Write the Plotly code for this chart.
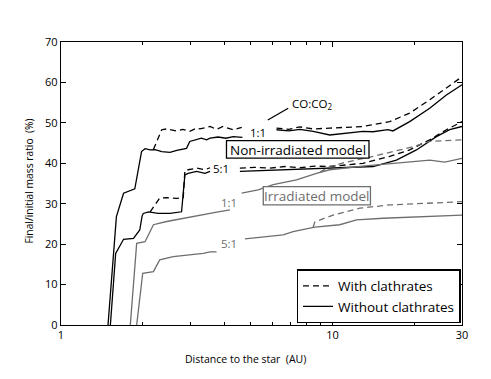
import math
import plotly.graph_objects as go

# ---------------- data (distance in AU, final/initial mass ratio in %) ----------------
ni11_solid_d = [1.49, 1.60, 1.70, 1.77, 1.87, 1.98, 2.04, 2.13, 2.22, 2.35, 2.52, 2.67, 2.90, 2.98, 3.16, 3.29,
                3.44, 3.54, 3.79, 4.05, 4.31, 4.66, None, 6.22, 6.90, 7.58, 8.49, 9.77, 10.9, 12.96, 14.1, 16.0,
                16.7, 19.25, 22.81, 26.28, 30]
ni11_solid_v = [0, 26.8, 32.6, 33.0, 33.7, 42.9, 43.6, 43.3, 43.4, 42.9, 42.7, 43.2, 43.7, 45.4, 45.8, 46.2,
                45.8, 46.2, 46.5, 46.2, 46.6, 46.4, None, 48.3, 48.0, 48.4, 47.9, 47.0, 47.3, 47.9, 47.8, 48.3,
                48.0, 50.3, 53.6, 56.9, 59.4]

ni11_dash_d = [2.19, 2.35, 2.45, 2.67, 2.81, 2.98, 3.16, 3.25, 3.54, 3.74, 3.95, 4.31, 4.63, None, 6.22, 6.90,
               7.58, 8.49, 9.77, 12.96, 16.25, 19.25, 22.81, 26.28, 30]
ni11_dash_v = [43.4, 48.3, 48.5, 48.0, 48.4, 47.9, 48.7, 48.5, 49.1, 48.4, 49.1, 48.3, 48.9, None, 48.7, 48.4,
               49.0, 48.5, 48.7, 49.1, 50.3, 52.4, 55.7, 58.6, 61.4]

ni51_solid_d = [1.52, 1.59, 1.70, 1.85, 1.95, 1.99, 2.01, 2.10, 2.28, 2.52, 2.78, 2.86, 2.94, 3.16, 3.39, 3.54,
                None, 4.56, 5.87, 7.58, 9.77, 14.11, 17.20, 20.38, 24.15, 27.02, 30]
ni51_solid_v = [0, 17.7, 21.2, 21.4, 23.5, 27.0, 27.6, 28.0, 27.6, 27.6, 28.0, 37.1, 37.5, 38.0, 37.5, 38.0,
                None, 38.0, 38.3, 38.5, 38.8, 39.2, 40.8, 43.3, 46.6, 48.3, 49.1]

ni51_dash_d = [2.13, 2.22, 2.31, 2.45, 2.67, 2.82, 2.86, 2.94, 3.16, 3.39, 3.54, None, 4.56, 5.17, 5.87, 6.67,
               7.58, 8.61, 9.77, 12.96, 16.25, 19.25, 22.81, 26.28, 30]
ni51_dash_v = [28.0, 29.7, 31.4, 31.5, 31.3, 31.5, 38.2, 38.4, 38.8, 38.4, 38.9, None, 38.8, 39.0, 38.8, 39.2,
               38.9, 39.3, 39.2, 40.0, 41.7, 43.3, 45.8, 48.3, 50.3]

irr11_solid_d = [1.80, 1.90, 2.04, 2.19, 2.45, 2.82, 3.25, 3.54, 3.79, 4.19, None, 4.63, 5.32, 6.05, 7.37, 8.73,
                 9.77, 12.96, 17.20, 22.81, 25.9, 30]
irr11_solid_v = [0, 20.2, 20.6, 24.8, 25.6, 26.4, 27.2, 27.8, 28.0, 28.5, None, 32.6, 33.4, 34.7, 35.9, 37.5,
                 38.4, 39.3, 40.0, 40.8, 40.3, 41.2]

irr11_dash_d = [9.0, 9.77, 11.26, 14.11, 19.80, 22.81, 30]
irr11_dash_v = [37.8, 39.2, 40.3, 41.7, 44.1, 45.4, 45.8]

irr51_solid_d = [1.90, 2.00, 2.19, 2.31, 2.59, 2.98, 3.34, 3.54, 3.74, None, 4.76, 5.72, 6.58, 7.16, 8.61, 10.64,
                 12.26, 15.36, 20.38, 30]
irr51_solid_v = [0, 12.8, 13.2, 16.1, 16.9, 17.3, 17.7, 18.1, 18.1, None, 21.3, 21.9, 22.3, 23.1, 24.2, 24.8,
                 26.0, 26.4, 26.8, 27.2]

irr51_dash_d = [8.49, 8.61, 10.05, 12.60, 16.25, 21.55, 30]
irr51_dash_v = [24.2, 25.5, 27.2, 28.9, 29.7, 30.1, 30.5]

x_tick_vals = [1, 10, 30]
x_tick_text = ["1", "10", "30"]
x_minor_vals = [2, 3, 4, 5, 6, 7, 8, 9, 20]
y_tick_vals = [0, 10, 20, 30, 40, 50, 60, 70]

# ---------------- styling ----------------
BLACK = "#000000"
GRAY = "#6e6e6e"
FONT = "Open Sans"
DASH = "6px,4px"

fig = go.Figure()

def add(d, v, color, dash, name=None, legend=False):
    fig.add_trace(go.Scatter(
        x=d, y=v, mode="lines", name=name, showlegend=legend,
        connectgaps=False,
        line=dict(color=color, width=1.3, dash=dash),
        hoverinfo="skip"))

add(ni11_dash_d, ni11_dash_v, BLACK, DASH, "With clathrates", True)
add(ni11_solid_d, ni11_solid_v, BLACK, "solid", "Without clathrates", True)
add(ni51_dash_d, ni51_dash_v, BLACK, DASH)
add(ni51_solid_d, ni51_solid_v, BLACK, "solid")
add(irr11_dash_d, irr11_dash_v, GRAY, DASH)
add(irr11_solid_d, irr11_solid_v, GRAY, "solid")
add(irr51_dash_d, irr51_dash_v, GRAY, DASH)
add(irr51_solid_d, irr51_solid_v, GRAY, "solid")

lg = math.log10

def label(text, d, v, color=BLACK, size=11.5):
    # annotations on a log axis take log10 positions
    fig.add_annotation(text=text, x=lg(d), y=v, xref="x", yref="y", showarrow=False,
                       xanchor="center", yanchor="middle",
                       font=dict(family=FONT, size=size, color=color))

def box(d0, v0, d1, v1, color):
    # shapes here take data (distance) positions
    fig.add_shape(type="rect", xref="x", yref="y", x0=d0, y0=v0, x1=d1, y1=v1,
                  line=dict(color=color, width=1.3), fillcolor="white", layer="above")

box(4.07, 41.26, 13.63, 45.62, BLACK)
box(5.56, 29.70, 13.80, 34.23, GRAY)

label("CO:CO<sub>2</sub>", 8.39, 54.7)
label("1:1", 5.30, 47.6)
label("Non-irradiated model", 7.45, 43.4, size=13.5)
label("5:1", 3.88, 38.7)
label("Irradiated model", 8.75, 31.95, color=GRAY, size=13.5)
label("1:1", 4.14, 30.2, color=GRAY)
label("5:1", 4.14, 20.2, color=GRAY)

# leader line for CO:CO2
fig.add_shape(type="line", xref="x", yref="y", x0=5.78, y0=50.7, x1=6.87, y1=53.6,
              line=dict(color=BLACK, width=1.3))

# axis titles
fig.add_annotation(text="Distance to the star  (AU)", xref="paper", yref="paper", x=0.459, y=-0.12,
                   xanchor="center", yanchor="middle",
                   showarrow=False, font=dict(family=FONT, size=10.5, color=BLACK))
fig.add_annotation(text="Final/initial mass ratio  (%)", xref="paper", yref="paper", x=-0.08, y=0.51,
                   xanchor="center", yanchor="middle",
                   textangle=-90, showarrow=False, font=dict(family=FONT, size=10.3, color=BLACK))

fig.update_xaxes(
    type="log", range=[0, lg(30)], tickmode="array", tickvals=x_tick_vals, ticktext=x_tick_text,
    ticks="inside", ticklen=5, tickwidth=1, tickcolor=BLACK, showline=True, linecolor=BLACK, linewidth=1.3,
    mirror="ticks", showgrid=False, zeroline=False,
    tickfont=dict(family=FONT, size=11, color=BLACK),
    minor=dict(tickmode="array", tickvals=x_minor_vals, ticks="inside", ticklen=3, tickcolor=BLACK,
               tickwidth=1, showgrid=False))
fig.update_yaxes(
    range=[0, 70], tickmode="array", tickvals=y_tick_vals,
    ticks="inside", ticklen=5, tickwidth=1, tickcolor=BLACK, showline=True, linecolor=BLACK, linewidth=1.3,
    mirror="ticks", showgrid=False, zeroline=False,
    tickfont=dict(family=FONT, size=11, color=BLACK))

fig.update_layout(
    width=483, height=371,
    margin=dict(l=53, r=29, t=34, b=54),
    paper_bgcolor="white", plot_bgcolor="white",
    showlegend=True,
    legend=dict(x=0.9968, y=0.006, xanchor="right", yanchor="bottom",
                bordercolor=BLACK, borderwidth=1.3, bgcolor="white",
                font=dict(family=FONT, size=13.5, color=BLACK),
                tracegroupgap=0, itemwidth=30),
    font=dict(family=FONT, color=BLACK),
)

fig.write_html("out.html")
